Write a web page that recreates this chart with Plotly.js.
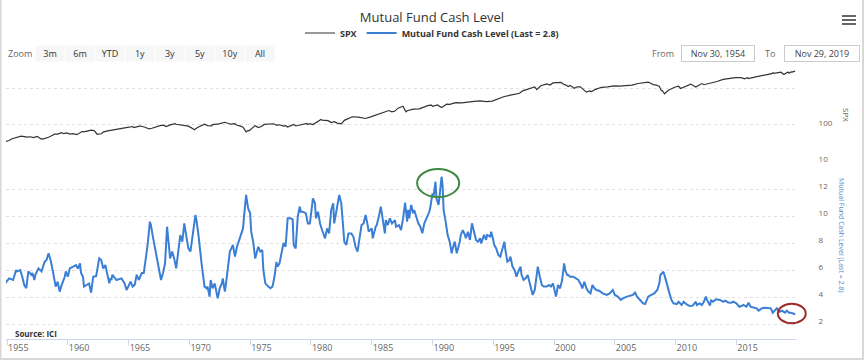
<!DOCTYPE html>
<html><head><meta charset="utf-8">
<script src="https://cdn.plot.ly/plotly-3.0.1.min.js"></script>
<style>html,body{margin:0;padding:0;background:#fff}#chart{width:864px;height:360px}</style>
</head><body><div id="chart"></div>
<script>
const chartTitle = 'Mutual Fund Cash Level';
const spxName = 'SPX';
const cashBaseName = 'Mutual Fund Cash Level';
const sourceText = 'Source: ICI';
const fromLabel = 'Nov 30, 1954';
const toLabel = 'Nov 29, 2019';
const rangeButtons = ['3m','6m','YTD','1y','3y','5y','10y','All'];
const spxTickVals = [10, 100, 1000];
const spxTickText = ['10', '100', ''];
const cashTickVals = [2, 4, 6, 8, 10, 12, 14];
const cashTickText = ['2', '4', '6', '8', '10', '12', ''];

const spxDates = ['1954-11','1955-03','1955-06','1955-09','1955-12','1956-03','1956-06','1956-09','1956-12','1957-03','1957-07','1957-10','1957-12','1958-03','1958-06','1958-09','1958-12','1959-03','1959-07','1959-09','1959-12','1960-03','1960-06','1960-10','1960-12','1961-03','1961-06','1961-09','1961-12','1962-03','1962-06','1962-10','1962-12','1963-03','1963-06','1963-09','1963-12','1964-06','1964-12','1965-05','1965-06','1965-12','1966-01','1966-06','1966-09','1966-12','1967-06','1967-09','1967-12','1968-02','1968-06','1968-11','1968-12','1969-06','1969-09','1969-12','1970-05','1970-06','1970-09','1970-12','1971-04','1971-07','1971-11','1971-12','1972-06','1972-12','1973-06','1973-10','1973-12','1974-03','1974-06','1974-09','1974-11','1974-12','1975-03','1975-06','1975-09','1975-12','1976-03','1976-06','1976-09','1976-12','1977-03','1977-06','1977-10','1977-12','1978-02','1978-08','1978-10','1978-12','1979-06','1979-09','1979-10','1979-12','1980-03','1980-06','1980-11','1980-12','1981-03','1981-06','1981-09','1981-12','1982-03','1982-07','1982-10','1982-12','1983-06','1983-12','1984-05','1984-07','1984-12','1985-06','1985-12','1986-06','1986-09','1986-12','1987-03','1987-08','1987-10','1987-11','1987-12','1988-06','1988-12','1989-06','1989-09','1989-12','1990-01','1990-06','1990-10','1990-12','1991-03','1991-06','1991-12','1992-06','1992-12','1993-06','1993-12','1994-03','1994-06','1994-12','1995-06','1995-12','1996-06','1996-12','1997-03','1997-06','1997-09','1997-12','1998-06','1998-08','1998-12','1999-06','1999-09','1999-12','2000-03','2000-08','2000-11','2000-12','2001-03','2001-05','2001-09','2001-12','2002-03','2002-07','2002-09','2002-12','2003-02','2003-06','2003-12','2004-06','2004-12','2005-06','2005-12','2006-06','2006-12','2007-06','2007-10','2007-12','2008-03','2008-06','2008-09','2008-11','2008-12','2009-02','2009-06','2009-12','2010-04','2010-06','2010-12','2011-04','2011-09','2011-12','2012-03','2012-05','2012-12','2013-06','2013-12','2014-06','2014-12','2015-06','2015-08','2015-09','2015-12','2016-01','2016-06','2016-12','2017-06','2017-12','2018-01','2018-02','2018-09','2018-12','2019-04','2019-05','2019-07','2019-08','2019-11'];
const spxValues = [34.2,36.6,41.0,43.7,45.5,48.5,47.0,45.4,46.7,44.1,47.9,41.2,40.0,42.1,45.2,50.0,55.2,55.4,60.5,56.9,59.9,55.3,56.9,53.4,58.1,65.1,64.6,66.7,71.6,69.6,54.8,56.5,63.1,66.6,69.4,71.7,75.0,81.7,84.8,89.9,84.1,92.4,92.9,84.7,77.0,80.3,90.6,96.7,96.5,89.4,99.6,108.4,103.9,97.7,93.1,92.1,76.6,72.7,84.2,92.2,104.0,95.6,94.0,102.1,107.1,118.1,104.3,108.3,97.6,94.0,86.0,63.5,70.0,68.6,83.4,95.2,83.9,90.2,102.8,104.3,105.2,107.5,98.4,100.5,92.3,95.1,87.0,103.3,93.2,96.1,102.9,109.3,101.8,107.9,102.1,114.2,140.5,135.8,136.0,131.2,116.2,122.6,112.0,107.1,133.7,140.6,168.1,164.9,150.6,150.7,167.2,191.9,211.3,250.8,231.3,242.2,291.7,329.8,251.8,230.3,247.1,273.5,277.7,318.0,349.2,353.4,329.1,358.0,304.0,330.2,375.2,371.2,417.1,408.1,435.7,450.5,466.5,445.8,444.3,459.3,544.8,615.9,670.6,740.7,757.1,885.1,947.3,970.4,1133.8,957.3,1229.2,1372.7,1282.7,1469.3,1498.6,1517.7,1315.2,1320.3,1160.3,1255.8,1040.9,1148.1,1147.4,911.6,815.3,879.8,841.2,974.5,1111.9,1140.8,1211.9,1191.3,1248.3,1270.2,1418.3,1503.4,1549.4,1468.4,1322.7,1280.0,1166.4,896.2,903.3,735.1,919.3,1115.1,1186.7,1030.7,1257.6,1363.6,1131.4,1257.6,1408.5,1310.3,1426.2,1606.3,1848.4,1960.2,2058.9,2063.1,1972.2,1920.0,2043.9,1940.2,2098.9,2238.8,2423.4,2673.6,2823.8,2713.8,2914.0,2506.9,2945.8,2752.1,2980.4,2926.5,3141.0];

const cashDates = ['1954-11','1955-03','1955-07','1955-10','1955-11','1956-02','1956-04','1956-06','1956-08','1956-10','1957-01','1957-02','1957-04','1957-05','1957-08','1957-11','1958-02','1958-04','1958-06','1958-08','1958-10','1958-12','1959-01','1959-03','1959-05','1959-07','1959-10','1959-11','1960-01','1960-03','1960-06','1960-09','1960-11','1961-01','1961-02','1961-04','1961-05','1961-08','1961-10','1961-12','1962-02','1962-05','1962-08','1962-10','1962-12','1963-02','1963-04','1963-06','1963-07','1963-08','1963-09','1964-01','1964-06','1964-09','1964-11','1964-12','1965-03','1965-05','1965-07','1965-09','1965-11','1966-02','1966-04','1966-06','1966-08','1966-10','1966-11','1967-01','1967-03','1967-04','1967-06','1967-07','1967-09','1967-11','1968-01','1968-03','1968-04','1968-06','1968-08','1968-10','1968-12','1969-02','1969-04','1969-06','1969-08','1969-09','1969-12','1970-02','1970-04','1970-07','1970-08','1970-10','1971-01','1971-02','1971-04','1971-06','1971-07','1971-09','1971-10','1971-12','1972-02','1972-04','1972-05','1972-07','1972-09','1972-10','1972-12','1973-01','1973-03','1973-05','1973-08','1973-10','1973-12','1974-03','1974-06','1974-07','1974-09','1974-11','1975-01','1975-02','1975-04','1975-06','1975-08','1975-09','1975-11','1976-01','1976-02','1976-04','1976-07','1976-09','1976-11','1977-01','1977-03','1977-04','1977-06','1977-08','1977-10','1977-12','1978-02','1978-05','1978-07','1978-08','1978-10','1978-12','1979-02','1979-03','1979-05','1979-08','1979-10','1979-12','1980-01','1980-03','1980-05','1980-06','1980-08','1980-10','1980-12','1981-03','1981-05','1981-07','1981-09','1981-11','1981-12','1982-02','1982-05','1982-07','1982-09','1982-10','1982-12','1983-02','1983-05','1983-07','1983-09','1983-11','1984-01','1984-03','1984-05','1984-07','1984-09','1984-10','1985-01','1985-02','1985-05','1985-06','1985-08','1985-10','1985-12','1986-02','1986-03','1986-05','1986-07','1986-09','1986-12','1987-01','1987-04','1987-06','1987-08','1987-10','1987-12','1988-01','1988-02','1988-04','1988-06','1988-07','1988-09','1988-11','1989-01','1989-03','1989-05','1989-08','1989-10','1989-11','1990-01','1990-02','1990-04','1990-05','1990-07','1990-08','1990-10','1990-11','1990-12','1991-02','1991-04','1991-06','1991-08','1991-09','1991-11','1992-01','1992-02','1992-04','1992-05','1992-07','1992-09','1992-10','1992-12','1993-02','1993-04','1993-06','1993-08','1993-10','1993-12','1994-01','1994-04','1994-06','1994-07','1994-10','1994-11','1995-01','1995-02','1995-04','1995-06','1995-08','1995-10','1995-12','1996-01','1996-03','1996-05','1996-06','1996-08','1996-10','1996-12','1997-01','1997-04','1997-05','1997-07','1997-09','1997-11','1998-02','1998-04','1998-06','1998-08','1998-09','1998-11','1999-01','1999-03','1999-06','1999-08','1999-10','1999-12','2000-02','2000-03','2000-05','2000-07','2000-09','2000-11','2000-12','2001-02','2001-03','2001-05','2001-08','2001-10','2002-01','2002-03','2002-05','2002-07','2002-09','2002-11','2003-01','2003-03','2003-05','2003-07','2003-10','2004-01','2004-05','2004-08','2004-11','2005-01','2005-04','2005-07','2005-09','2006-01','2006-04','2006-07','2006-09','2006-11','2007-02','2007-05','2007-07','2007-10','2008-01','2008-04','2008-07','2008-09','2008-10','2008-12','2009-01','2009-03','2009-05','2009-07','2009-09','2009-11','2010-02','2010-04','2010-07','2010-09','2010-12','2011-03','2011-06','2011-09','2011-10','2012-01','2012-03','2012-05','2012-07','2012-08','2012-11','2012-12','2013-02','2013-05','2013-09','2013-12','2014-02','2014-05','2014-08','2014-10','2015-01','2015-04','2015-06','2015-08','2015-11','2016-01','2016-03','2016-06','2016-09','2016-11','2017-02','2017-05','2017-08','2017-11','2018-01','2018-03','2018-05','2018-08','2018-10','2019-01','2019-03','2019-05','2019-07','2019-10','2019-11'];
const cashValues = [5.0,5.38,5.26,6.0,5.9,6.0,5.5,4.89,4.65,5.9,5.65,5.78,5.26,5.65,6.12,5.9,6.6,6.74,7.24,6.74,6.0,5.14,4.77,5.14,4.4,4.9,5.5,5.9,5.5,6.12,6.25,6.37,6.1,6.5,5.78,5.5,4.77,4.9,5.0,4.32,5.5,5.55,6.86,6.74,6.12,6.37,5.65,5.01,5.38,5.26,5.65,5.26,5.38,5.01,4.52,4.65,5.14,4.77,4.9,5.65,5.26,5.78,5.78,6.86,8.0,9.58,9.33,8.46,7.72,7.24,6.5,6.0,5.26,5.78,6.5,9.21,8.35,6.86,7.37,6.86,6.12,7.48,8.59,8.1,9.45,8.96,7.6,7.37,8.59,10.07,9.7,8.59,6.5,5.78,4.77,4.65,4.77,4.02,5.26,4.65,5.01,4.26,3.9,4.65,5.01,5.38,4.4,4.9,6.0,7.37,7.86,7.0,7.72,8.35,9.08,9.95,11.56,10.57,10.2,8.84,8.1,6.86,7.48,7.72,7.37,7.48,6.0,5.01,4.77,4.65,4.77,5.5,6.6,6.25,6.5,7.24,8.0,7.72,9.83,9.83,9.75,7.86,7.6,9.95,10.7,10.32,10.32,10.2,9.45,9.45,10.2,11.31,10.94,9.83,10.32,9.45,8.96,8.35,9.08,8.71,10.44,10.94,9.45,10.44,11.56,10.94,8.96,8.1,7.86,8.71,8.71,8.46,7.72,7.37,8.35,9.33,9.45,10.07,9.33,8.84,9.08,8.35,9.21,9.33,9.95,10.69,9.7,8.71,9.7,9.33,9.83,9.45,9.7,9.21,9.33,8.96,9.8,11.0,9.58,10.45,9.83,10.82,10.2,10.45,9.95,9.46,9.21,8.72,9.46,9.95,10.33,10.7,11.68,11.43,12.54,11.31,10.82,11.43,12.91,12.3,10.45,9.58,8.6,8.1,7.24,7.6,8.1,7.24,7.48,8.1,8.6,8.96,8.6,8.35,8.84,8.23,9.46,8.84,8.23,8.1,8.35,7.97,8.6,8.23,8.6,8.48,8.84,8.23,7.85,7.6,7.11,6.99,7.6,8.1,7.48,6.62,6.74,6.99,6.25,6.0,5.5,5.75,6.25,5.63,5.26,5.38,5.63,4.77,4.15,4.52,6.0,6.25,5.5,4.89,4.77,4.77,4.89,4.77,5.01,4.4,4.03,4.89,4.64,5.26,6.49,6.0,5.63,5.63,5.5,5.5,5.38,5.26,5.01,4.64,5.13,4.64,4.4,4.27,4.89,4.64,4.52,4.45,4.27,4.15,4.27,4.52,4.15,4.03,3.78,3.9,4.03,4.08,4.15,4.33,4.03,3.78,3.53,3.48,4.03,4.15,4.27,4.52,5.01,5.63,5.75,5.87,5.38,4.77,4.27,3.78,3.53,3.48,3.65,3.41,3.65,3.45,3.33,3.36,3.65,3.41,3.53,3.41,3.65,4.03,3.78,3.36,3.78,3.65,3.83,3.78,3.65,3.73,3.6,3.58,3.65,3.53,3.28,3.33,3.41,3.28,3.58,3.28,3.23,3.16,2.99,3.16,3.21,3.16,3.16,2.84,2.99,3.16,2.91,2.99,2.84,2.99,2.84,2.84,2.74,2.8];

const xRange = ['1954-11-30', '2019-11-29'];
const cashRange = [0.89, 14];
const cashDomain = [0, 0.6436];
const spxDomain = [0.648, 1];

const lastCash = cashValues[cashValues.length - 1];
const cashName = cashBaseName + ' (Last = ' + lastCash + ')';

// helpers to place the highlight ellipses (paper coords, so they are not clipped)
const YEAR_MS = 365.25 * 24 * 3600 * 1000;
const t0 = Date.parse(xRange[0]), t1 = Date.parse(xRange[1]);
function xp(ms) { return (ms - t0) / (t1 - t0); }
function yp(v) { return cashDomain[0] + (v - cashRange[0]) / (cashRange[1] - cashRange[0]) * (cashDomain[1] - cashDomain[0]); }
function ellipse(dateStr, val, dxYears, halfWYears, dv, halfH, color) {
  const c = Date.parse(dateStr + '-01') + dxYears * YEAR_MS;
  return {type: 'circle', xref: 'paper', yref: 'paper',
    x0: xp(c - halfWYears * YEAR_MS), x1: xp(c + halfWYears * YEAR_MS),
    y0: yp(val + dv - halfH), y1: yp(val + dv + halfH),
    line: {color: color, width: 2}, fillcolor: 'rgba(0,0,0,0)'};
}
let peakIdx = 0;
cashValues.forEach((v, i) => { if (v > cashValues[peakIdx]) peakIdx = i; });
const lastIdx = cashValues.length - 1;

const traces = [
  {x: spxDates, y: spxValues, name: spxName, type: 'scatter', mode: 'lines',
   line: {color: '#333333', width: 1.2}, xaxis: 'x', yaxis: 'y'},
  {x: cashDates, y: cashValues, name: cashName, type: 'scatter', mode: 'lines',
   line: {color: '#3a7fd5', width: 2}, xaxis: 'x', yaxis: 'y2'}
];

const F = '"Open Sans", "Noto Sans", sans-serif';
const px = x => (x - 6) / 790;
const py = y => (339 - y) / 275;
const hamb = [16, 20, 24].map(yy => ({type: 'line', xref: 'paper', yref: 'paper',
  x0: px(842), x1: px(856), y0: py(yy), y1: py(yy), line: {color: '#666', width: 2}}));

const buttonAnns = rangeButtons.map((lab, i) => ({
  text: lab, xref: 'paper', yref: 'paper', x: px(50 + i * 30), xanchor: 'center',
  y: py(53.5), yanchor: 'middle', showarrow: false, width: 26, height: 13, borderpad: 1,
  bgcolor: '#f7f7f7', font: {family: F, size: 9, color: '#333'}
}));

const layout = {
  width: 864, height: 360,
  margin: {l: 6, r: 68, t: 64, b: 21},
  paper_bgcolor: '#fff', plot_bgcolor: '#fff',
  font: {family: F, size: 9, color: '#666'},
  title: {text: chartTitle, font: {family: F, size: 13, color: '#333'},
          x: 0.5, xref: 'container', xanchor: 'center', y: 1 - 17 / 360, yref: 'container', yanchor: 'middle'},
  showlegend: true,
  legend: {orientation: 'h', x: 0.5, xref: 'container', xanchor: 'center',
           y: 1 - 33 / 360, yref: 'container', yanchor: 'middle',
           font: {family: F, size: 9, color: '#333', weight: 'bold'}, itemwidth: 30, bgcolor: 'rgba(0,0,0,0)'},
  xaxis: {type: 'date', range: xRange, anchor: 'y2', showgrid: false,
          showline: true, linecolor: '#ccd6eb', linewidth: 1,
          ticks: 'outside', tickcolor: '#ccd6eb', ticklen: 5,
          tick0: '1955-01-01', dtick: 'M60', tickformat: '%Y',
          ticklabelposition: 'outside right',
          tickfont: {family: F, size: 9, color: '#666'},
          rangeslider: {visible: false}},
  yaxis: {type: 'log', domain: spxDomain, range: [1, 3.694], side: 'right', anchor: 'x',
          tickvals: spxTickVals, ticktext: spxTickText,
          showgrid: true, gridcolor: '#e0e0e0', griddash: 'dot', zeroline: false,
          ticks: 'outside', ticklen: 20, tickcolor: 'rgba(0,0,0,0)', ticklabelshift: -2,
          tickfont: {family: F, size: 8, color: '#666'}},
  yaxis2: {domain: cashDomain, range: cashRange, side: 'right', anchor: 'x',
           tickvals: cashTickVals, ticktext: cashTickText,
           showgrid: true, gridcolor: '#e0e0e0', griddash: 'dot', zeroline: false,
           ticks: 'outside', ticklen: 20, tickcolor: 'rgba(0,0,0,0)', ticklabelshift: -3,
           tickfont: {family: F, size: 8, color: '#666'}},
  annotations: [
    {text: 'Zoom', xref: 'paper', yref: 'paper', x: 0, xanchor: 'left', y: py(53.5), yanchor: 'middle',
     showarrow: false, font: {family: F, size: 9, color: '#666'}},
    {text: 'From', xref: 'paper', yref: 'paper', x: px(676), xanchor: 'right', y: py(53.5), yanchor: 'middle',
     showarrow: false, font: {family: F, size: 9, color: '#666'}},
    {text: fromLabel, xref: 'paper', yref: 'paper', x: px(717.5), xanchor: 'center', y: py(53.5), yanchor: 'middle',
     showarrow: false, width: 70, height: 13, bordercolor: '#cccccc', borderwidth: 1, borderpad: 1, bgcolor: '#fff',
     font: {family: F, size: 9, color: '#444'}},
    {text: 'To', xref: 'paper', yref: 'paper', x: px(777), xanchor: 'right', y: py(53.5), yanchor: 'middle',
     showarrow: false, font: {family: F, size: 9, color: '#666'}},
    {text: toLabel, xref: 'paper', yref: 'paper', x: px(821.5), xanchor: 'center', y: py(53.5), yanchor: 'middle',
     showarrow: false, width: 72, height: 13, bordercolor: '#cccccc', borderwidth: 1, borderpad: 1, bgcolor: '#fff',
     font: {family: F, size: 9, color: '#444'}},
    {text: '<b>' + sourceText + '</b>', xref: 'paper', yref: 'paper', x: px(13), xanchor: 'left', y: py(333), yanchor: 'middle',
     showarrow: false, font: {family: F, size: 8, color: '#333'}},
    {text: spxName, xref: 'paper', yref: 'paper', x: px(847), xanchor: 'center', y: py(115), yanchor: 'middle',
     textangle: 90, showarrow: false, font: {family: F, size: 8, color: '#666'}},
    {text: cashName, xref: 'paper', yref: 'paper', x: px(842), xanchor: 'center', y: py(235), yanchor: 'middle',
     textangle: 90, showarrow: false, font: {family: F, size: 7, color: '#4a86d0'}}
  ].concat(buttonAnns),
  shapes: [
    ellipse(cashDates[peakIdx], cashValues[peakIdx], -0.28, 1.73, -0.47, 1.04, '#3b8a3e'),
    ellipse(cashDates[lastIdx], cashValues[lastIdx], -0.27, 1.15, -0.02, 0.72, '#9e2b2b'),
    {type: 'line', xref: 'paper', yref: 'paper', x0: px(0), x1: px(0), y0: py(360), y1: py(0), line: {color: '#d8d8d8', width: 3}},
    {type: 'line', xref: 'paper', yref: 'paper', x0: px(0), x1: px(864), y0: py(359), y1: py(359), line: {color: '#d8d8d8', width: 2}},
    {type: 'line', xref: 'paper', yref: 'paper', x0: px(863), x1: px(863), y0: py(360), y1: py(0), line: {color: '#d8d8d8', width: 2}}
  ].concat(hamb)
};

Plotly.newPlot('chart', traces, layout, {displayModeBar: false, responsive: false});
</script>
</body></html>
